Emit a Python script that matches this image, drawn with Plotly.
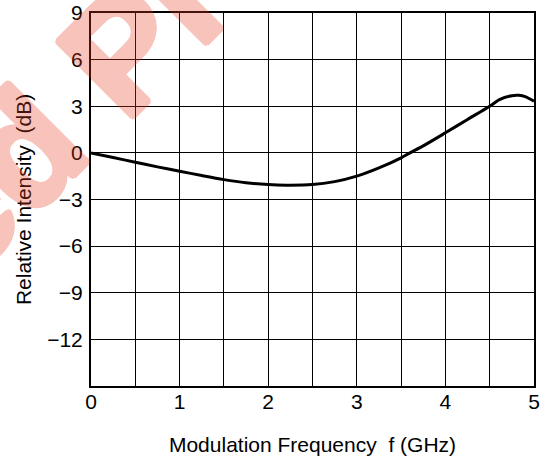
import plotly.graph_objects as go

freq_ghz = [0.0, 0.25, 0.5, 0.75, 1.0, 1.25, 1.5, 1.75, 2.0, 2.2, 2.5, 2.75, 3.0, 3.25, 3.5, 3.6, 3.75, 4.0, 4.25, 4.5, 4.61, 4.75, 4.83, 4.9, 5.0]
rel_db   = [0.0, -0.3, -0.6, -0.9, -1.18, -1.46, -1.72, -1.92, -2.04, -2.08, -2.04, -1.85, -1.5, -0.97, -0.32, 0.0, 0.45, 1.29, 2.15, 3.0, 3.43, 3.68, 3.7, 3.62, 3.32]

x_ticks = [0, 1, 2, 3, 4, 5]
y_ticks = [9, 6, 3, 0, -3, -6, -9, -12]

watermark = "Discontinued Product"

FONT = "Liberation Sans, Arial, sans-serif"

fig = go.Figure()
fig.add_trace(go.Scatter(x=freq_ghz, y=rel_db, mode="lines",
                         line=dict(color="black", width=3, shape="spline", smoothing=0.8),
                         hoverinfo="skip", showlegend=False))

fig.update_layout(
    width=550, height=459,
    margin=dict(l=91, r=15.5, t=13.3, b=72.5, autoexpand=False),
    paper_bgcolor="white", plot_bgcolor="white",
    font=dict(family=FONT, size=21, color="black"),
    xaxis=dict(range=[0, 5], tickvals=x_ticks, ticks="", showgrid=True,
               gridcolor="black", gridwidth=1, automargin=False,
               minor=dict(dtick=0.5, showgrid=True, gridcolor="black", gridwidth=1),
               showline=True, linecolor="black", linewidth=2, mirror=True,
               zeroline=False, ticklabelstandoff=-4,
               title=dict(text="Modulation Frequency\u00a0\u00a0f (GHz)", standoff=25,
                          font=dict(size=21))),
    yaxis=dict(range=[-15, 9], tickvals=y_ticks, ticks="", showgrid=True,
               gridcolor="black", gridwidth=1, automargin=False,
               showline=True, linecolor="black", linewidth=2, mirror=True,
               zeroline=False, ticklabelstandoff=2,
               title=dict(text="Relative Intensity\u00a0\u00a0(dB)", standoff=10,
                          font=dict(size=21))),
)

sh = "rgb(230,60,30)"
fig.add_annotation(text=watermark, xref="paper", yref="paper", x=-0.358, y=0.388,
                   xanchor="center", yanchor="middle", showarrow=False, textangle=-45,
                   opacity=0.3,
                   font=dict(family=FONT, size=155, color=sh, weight="bold",
                             shadow=f"3px 0 0 {sh}, -3px 0 0 {sh}, 0 3px 0 {sh}, 0 -3px 0 {sh}, 2px 2px 0 {sh}, -2px -2px 0 {sh}, 2px -2px 0 {sh}, -2px 2px 0 {sh}"))

fig.write_html("out.html")
